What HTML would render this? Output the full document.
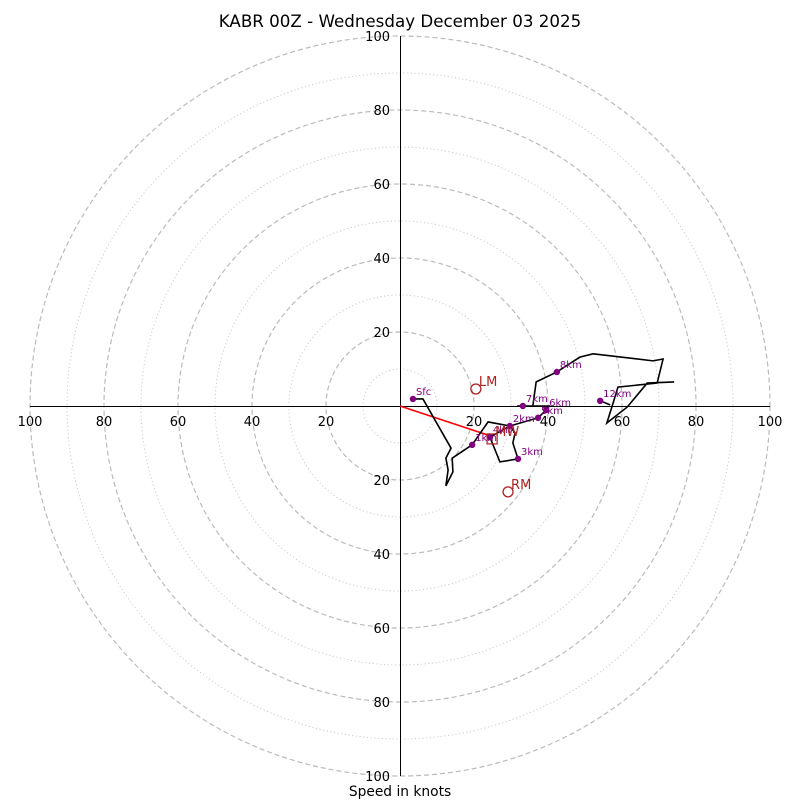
<!DOCTYPE html>
<html><head><meta charset="utf-8"><style>
body{margin:0;background:#fff;}
svg text{font-family:"DejaVu Sans","Liberation Sans",sans-serif;}
</style></head><body>
<svg id="chart" width="800" height="800" xmlns="http://www.w3.org/2000/svg">
<rect width="800" height="800" fill="#fff"/>
<g id="grid"></g><g id="axes"></g><g id="series"></g><g id="marks"></g>
<text x="400" y="27" font-size="16.7" text-anchor="middle">KABR 00Z - Wednesday December 03 2025</text>
<text x="400" y="796" font-size="13.8" text-anchor="middle">Speed in knots</text>
</svg>
<script>
const hodoU = [3.5,6.2,13.8,12.4,13.0,12.4,14.3,14.1,19.5,23.8,29.7,31.1,30.5,31.9,27.0,24.3,29.7,37.3,39.5,40.3,31.6,33.2,35.9,36.8,42.4,48.6,52.2,68.4,71.1,69.5,58.9,57.6,55.9,61.4,66.8,74.1];
const hodoV = [1.9,1.9,-11.4,-14.1,-17.3,-21.6,-17.8,-14.1,-10.5,-4.3,-5.4,-7.3,-10.0,-14.3,-15.1,-8.4,-5.4,-3.2,-1.1,0,0,0,0,6.5,9.2,13.2,14.1,12.2,12.7,6.2,5.1,0.8,-4.6,-0.3,6.2,6.5];
const branchU = [54.1,56.8];
const branchV = [1.4,0.3];
const markerLabels = ["Sfc","1km","2km","3km","4km","5km","6km","7km","8km","12km"];
const markerU = [3.5,19.5,29.7,31.9,24.3,37.3,39.5,33.2,42.4,54.1];
const markerV = [1.9,-10.5,-5.4,-14.3,-8.4,-3.2,-1.1,0,9.2,1.4];
const motionLabels = ["LM","RM"];
const motionU = [20.5,29.2];
const motionV = [4.6,-23.2];
const meanWindU = [24.9];
const meanWindV = [-8.9];
const ringValues = [10,20,30,40,50,60,70,80,90,100];
const tickLabels = ["20","40","60","80","100"];

const NS="http://www.w3.org/2000/svg";
const cx=400, cy=406, R=370, maxV=100;
const sx=u=>cx+u*R/maxV, sy=v=>cy-v*R/maxV, sr=r=>r*R/maxV;
function mk(tag,attrs,parent){const e=document.createElementNS(NS,tag);for(const k in attrs)e.setAttribute(k,attrs[k]);parent.appendChild(e);return e;}
const grid=document.getElementById('grid'),axes=document.getElementById('axes'),series=document.getElementById('series'),marks=document.getElementById('marks');
ringValues.forEach(v=>{
  const dashed=v%20===0;
  const c=mk('circle',{cx:cx,cy:cy,r:sr(v),fill:'none',stroke:dashed?'#bbb':'#ccc','stroke-width':dashed?1.2:1,'stroke-dasharray':dashed?'5,3':'1.2,2.5'},grid);
  
  
});
let l=mk('line',{x1:sx(-100),y1:cy+0.5,x2:sx(100),y2:cy+0.5,stroke:'#000','stroke-width':1},axes);


l=mk('line',{x1:cx+0.5,y1:sy(100),x2:cx+0.5,y2:sy(-100),stroke:'#000','stroke-width':1},axes);


tickLabels.forEach(t=>{
  const v=+t;
  [[sx(v),cy+20,'middle'],[sx(-v),cy+20,'middle']].forEach(p=>{
    const e=mk('text',{x:p[0],y:p[1],'font-size':13,'text-anchor':p[2]},axes);e.textContent=t;
    
    
  });
  [sy(v),sy(-v)].forEach(y=>{
    const e=mk('text',{x:cx-10,y:y+5,'font-size':13,'text-anchor':'end'},axes);e.textContent=t;
    
    
  });
});
let rl=mk('line',{x1:cx,y1:cy,x2:sx(meanWindU[0]-1),y2:sy(meanWindV[0]+1),stroke:'#f00','stroke-width':1.6},series);


let pl=mk('polyline',{points:hodoU.map((u,i)=>sx(u)+','+sy(hodoV[i])).join(' '),fill:'none',stroke:'#000','stroke-width':1.6},series);


pl=mk('polyline',{points:branchU.map((u,i)=>sx(u)+','+sy(branchV[i])).join(' '),fill:'none',stroke:'#000','stroke-width':1.6},series);


markerLabels.forEach((t,i)=>{
  const c=mk('circle',{cx:sx(markerU[i]),cy:sy(markerV[i]),r:3.2,fill:'#800080'},marks);
  
  
  const e=mk('text',{x:sx(markerU[i])+3,y:sy(markerV[i])-4,'font-size':10,fill:'#800080'},marks);e.textContent=t;
  
  
});
motionLabels.forEach((t,i)=>{
  const c=mk('circle',{cx:sx(motionU[i]),cy:sy(motionV[i]),r:5,fill:'none',stroke:'#b22222','stroke-width':1.3},marks);
  
  
  const e=mk('text',{x:sx(motionU[i])+3,y:sy(motionV[i])-3,'font-size':13,fill:'#b22222'},marks);e.textContent=t;
  
  
});
let sq=mk('rect',{x:sx(meanWindU[0])-5,y:sy(meanWindV[0])-5,width:10,height:10,fill:'none',stroke:'#b22222','stroke-width':1.2},marks);


let mw=mk('text',{x:sx(meanWindU[0])+3,y:sy(meanWindV[0])-3,'font-size':13,fill:'#b22222'},marks);mw.textContent='MW';


</script>
</body></html>
